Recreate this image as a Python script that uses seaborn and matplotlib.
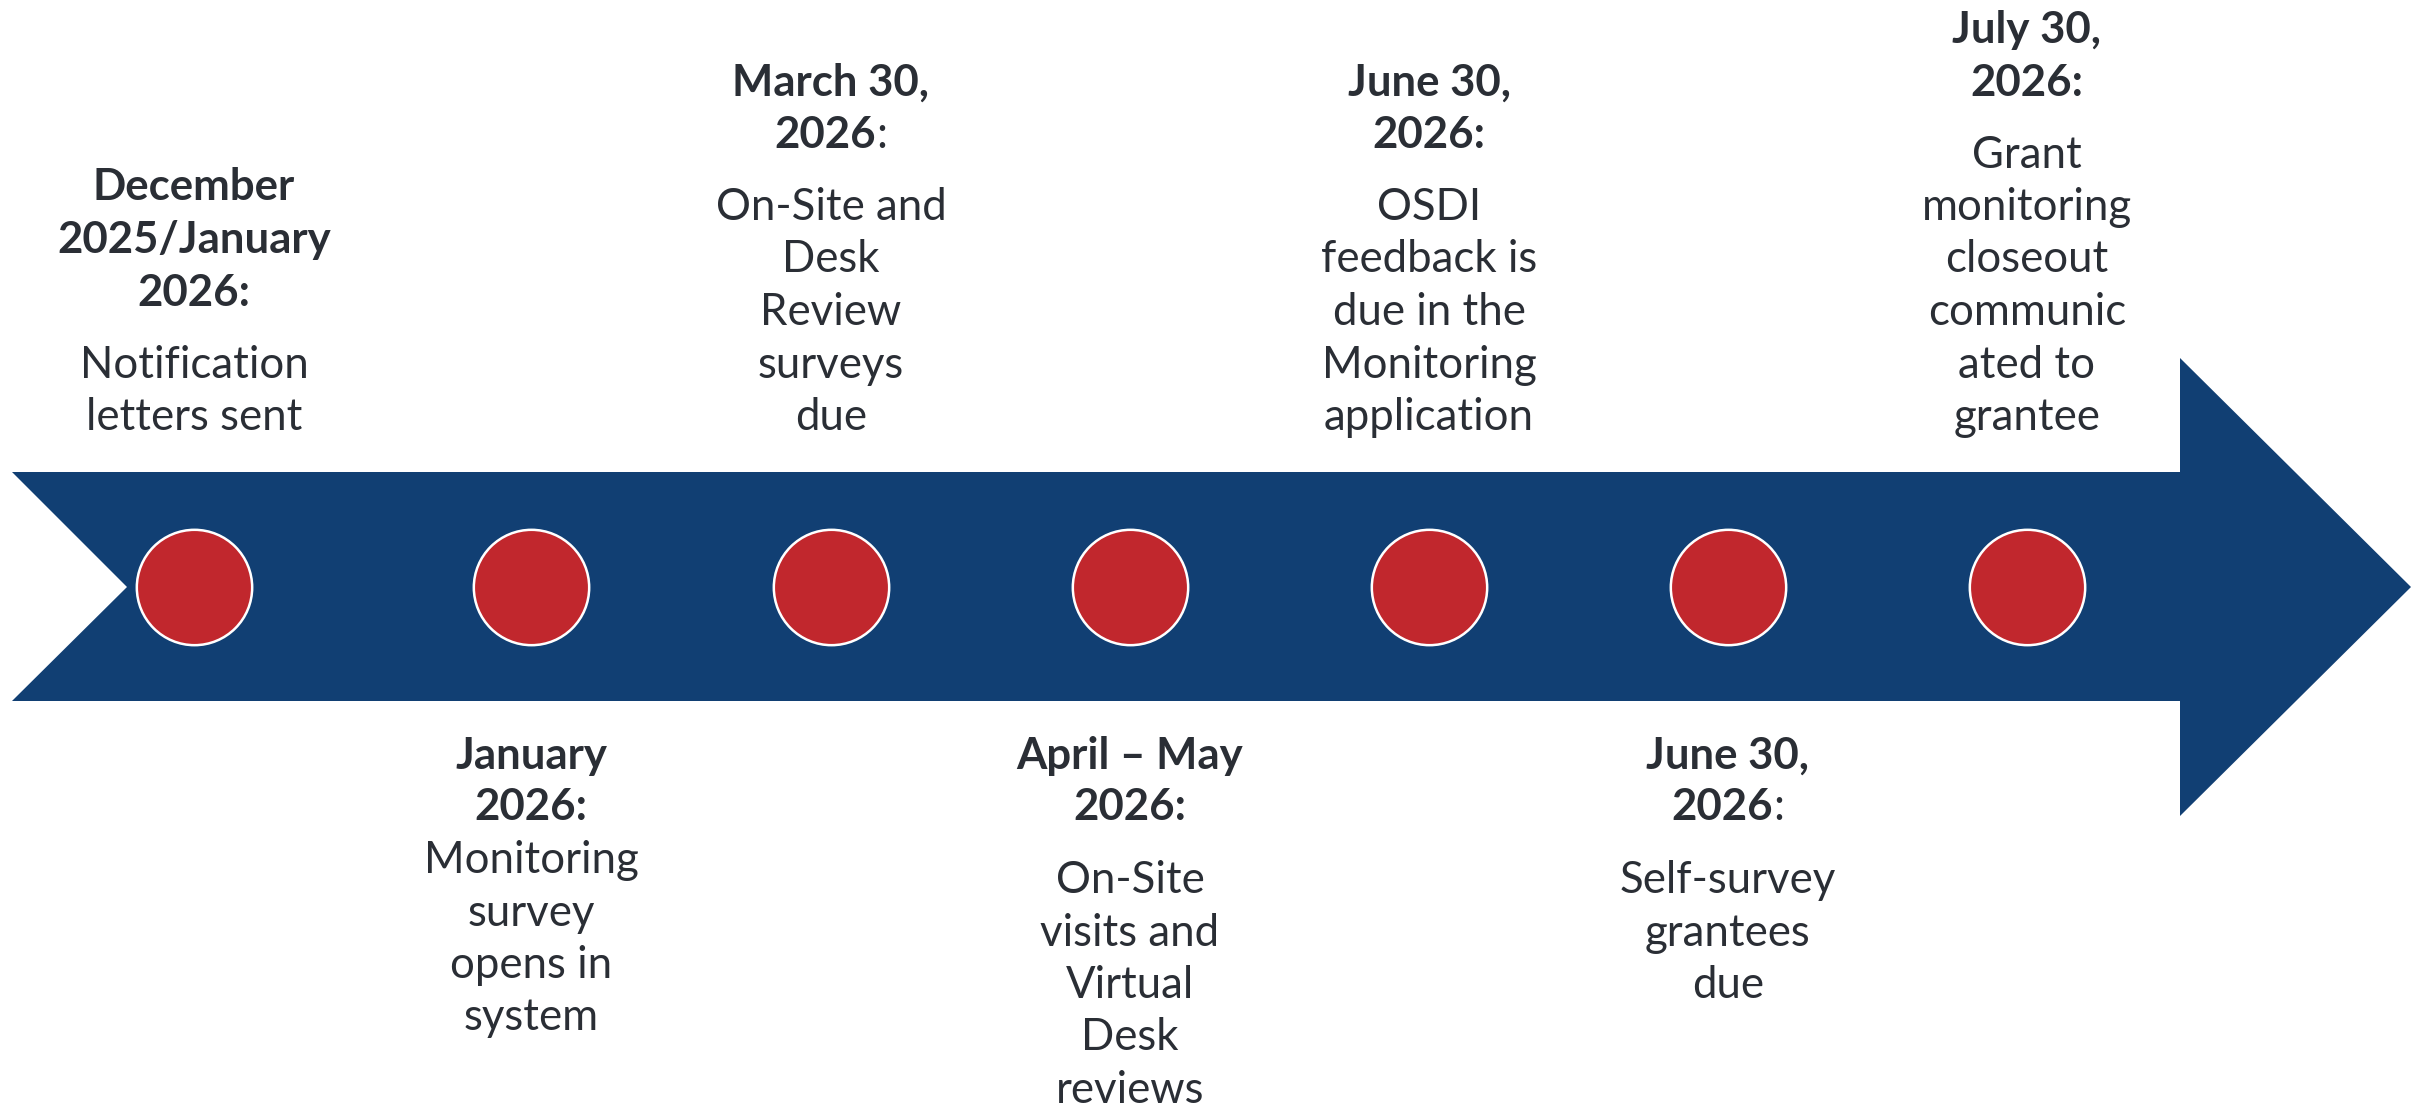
import pandas as pd
import seaborn as sns
import matplotlib.pyplot as plt
from matplotlib.patches import Polygon


# milestone data, left to right
titles = [
    ["December", "2025/January", "2026:"],
    ["January", "2026:"],
    ["March 30,", "2026:"],
    ["April \u2013 May", "2026:"],
    ["June 30,", "2026:"],
    ["June 30,", "2026:"],
    ["July 30,", "2026:"],
]
bodies = [
    ["Notification", "letters sent"],
    ["Monitoring", "survey", "opens in", "system"],
    ["On-Site and", "Desk", "Review", "surveys", "due"],
    ["On-Site", "visits and", "Virtual", "Desk", "reviews"],
    ["OSDI", "feedback is", "due in the", "Monitoring", "application"],
    ["Self-survey", "grantees", "due"],
    ["Grant", "monitoring", "closeout", "communic", "ated to", "grantee"],
]
sides = ["top", "bottom", "top", "bottom", "top", "bottom", "top"]
plain_colon = [False, False, True, False, False, True, False]

# layout (pixels)
W, H = 2428, 1112
milestone_x = [194, 531, 831, 1130, 1429, 1728, 2027]
BAND_Y = 587
PITCH = 52.5
bottom_gap = [None, 53, None, 73, None, 73, None]

NAVY = "#113F73"
RED = "#C1272D"
INK = "#2A2E35"
FS = 31.5

sns.set_style("white")
plt.rcParams["font.family"] = ["Lato", "DejaVu Sans"]

fig = plt.figure(figsize=(W / 100, H / 100), dpi=100)
ax = fig.add_axes([0, 0, 1, 1])
ax.set_xlim(0, W)
ax.set_ylim(H, 0)
ax.axis("off")

arrow = Polygon([(12, 472), (2180, 472), (2180, 358), (2411, 587),
                 (2180, 816), (2180, 701), (12, 701), (127, 587)],
                closed=True, facecolor=NAVY, edgecolor="none", zorder=1)
ax.add_patch(arrow)

df = pd.DataFrame({"x": milestone_x, "y": [BAND_Y] * len(milestone_x)})
sns.scatterplot(data=df, x="x", y="y", ax=ax, s=6900, color=RED,
                edgecolor="white", linewidth=1.8, zorder=3, legend=False)

renderer = fig.canvas.get_renderer()


def title_line(x, y, txt, plain):
    if plain and txt.endswith(":"):
        t = ax.text(0, 0, ":", fontsize=FS, color=INK)
        cw = t.get_window_extent(renderer).width
        t.remove()
        ax.text(x - cw / 2, y, txt[:-1], ha="center", va="baseline",
                fontsize=FS, fontweight="bold", color=INK)
        t2 = ax.text(0, y, txt[:-1], fontsize=FS, fontweight="bold")
        bw = t2.get_window_extent(renderer).width
        t2.remove()
        ax.text(x - cw / 2 + bw / 2, y, ":", ha="left", va="baseline",
                fontsize=FS, color=INK)
    else:
        ax.text(x, y, txt, ha="center", va="baseline", fontsize=FS,
                fontweight="bold", color=INK)


for i, x in enumerate(milestone_x):
    t_lines, b_lines = titles[i], bodies[i]
    if sides[i] == "top":
        last = 430
        body_y = [last - PITCH * (len(b_lines) - 1 - k) for k in range(len(b_lines))]
        tl = body_y[0] - 72
        title_y = [tl - PITCH * (len(t_lines) - 1 - k) for k in range(len(t_lines))]
    else:
        title_y = [769 + 51 * k for k in range(len(t_lines))]
        first = title_y[-1] + bottom_gap[i]
        body_y = [first + PITCH * k for k in range(len(b_lines))]
    for txt, y in zip(t_lines, title_y):
        title_line(x, y, txt, plain_colon[i])
    for txt, y in zip(b_lines, body_y):
        ax.text(x, y, txt, ha="center", va="baseline", fontsize=FS, color=INK)

fig.savefig("out.png", dpi=100)
